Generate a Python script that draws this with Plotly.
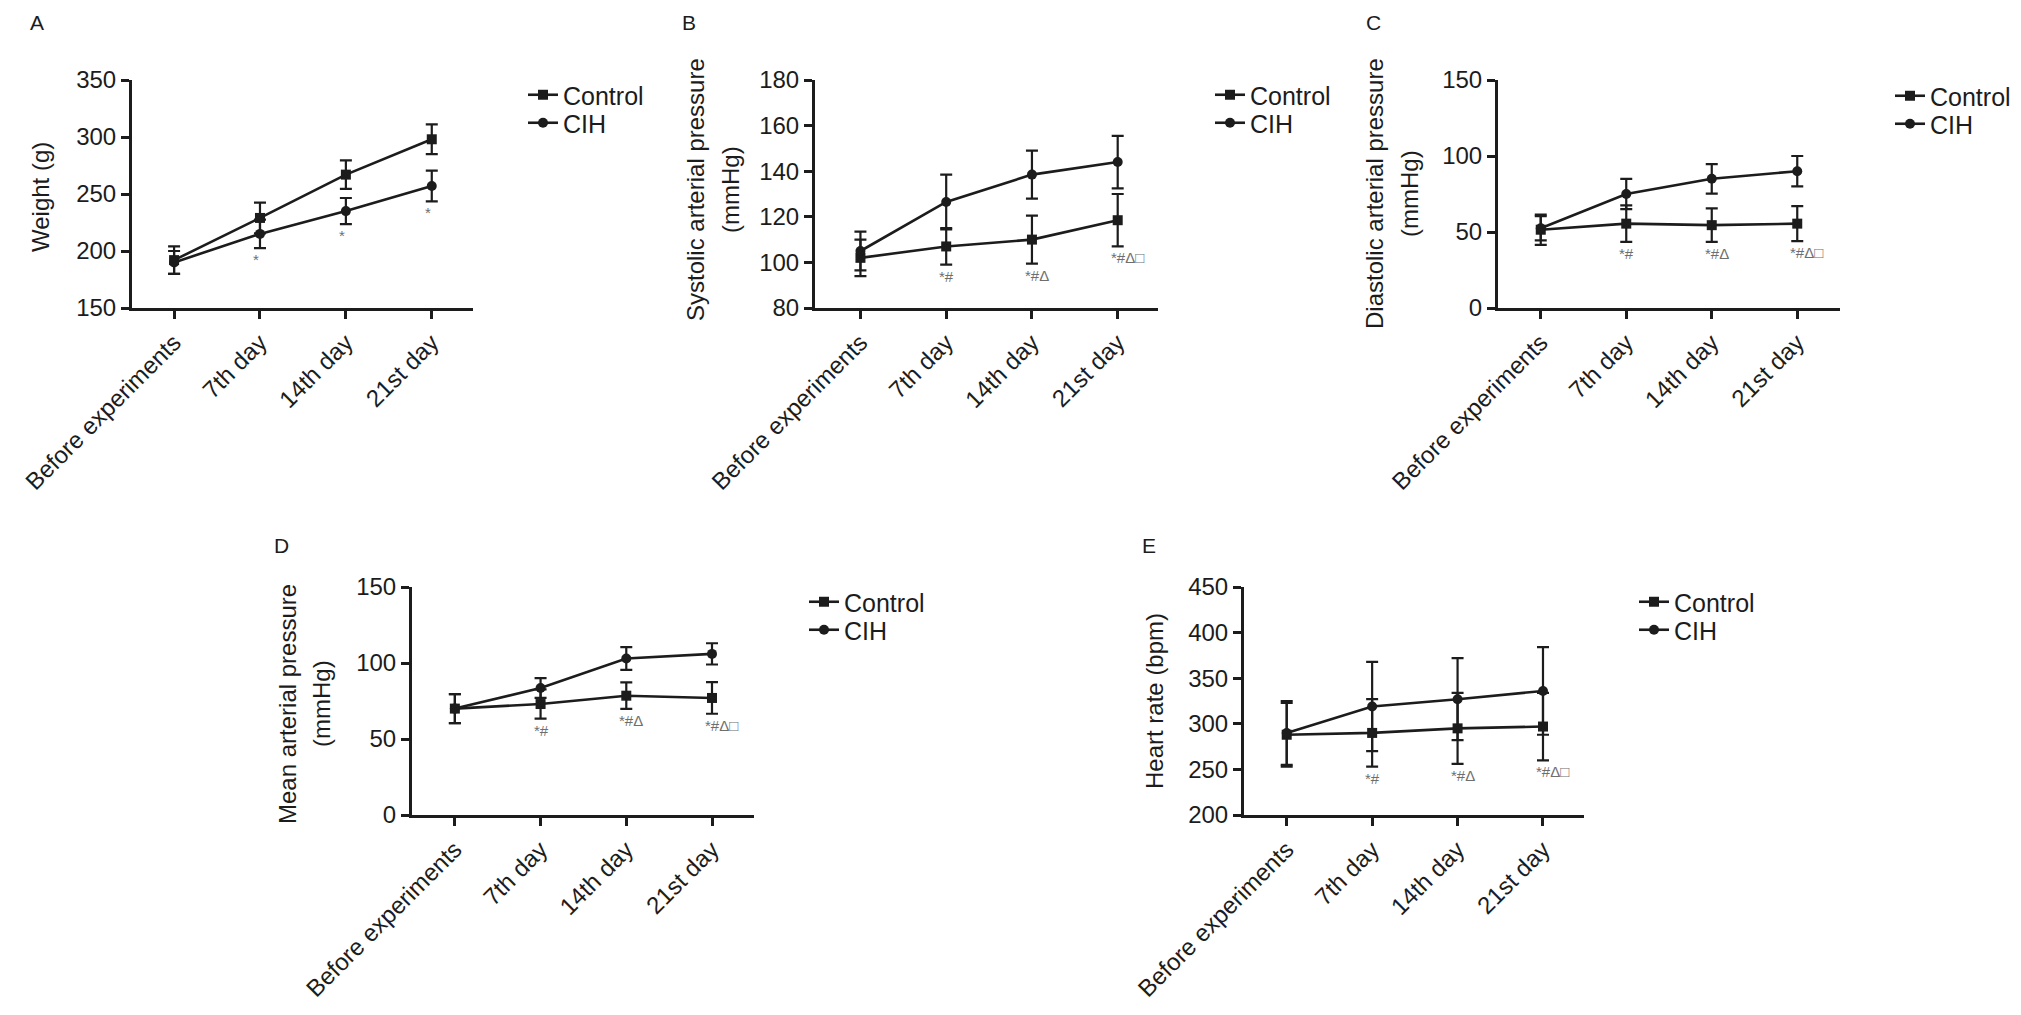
import plotly.graph_objects as go

# page is rendered with an 8px body margin, so the figure is sized to fit inside it
OFF = 8
PW, PH = 2021, 1015
W, H = PW - 2 * OFF, PH - 2 * OFF

categories = ["Before experiments", "7th day", "14th day", "21st day"]

# Panel A - Weight (g)
a_ctrl = [192, 229, 267, 298]
a_ctrl_err = [12, 13.5, 12.5, 13]
a_cih = [190, 215, 235, 257]
a_cih_err = [10, 12.5, 11.5, 13.5]
a_marks = ["", "*", "*", "*"]

# Panel B - Systolic arterial pressure (mmHg)
b_ctrl = [102, 107, 110, 118.5]
b_ctrl_err = [8, 8, 10.5, 11.5]
b_cih = [105, 126.5, 138.5, 144]
b_cih_err = [8.5, 12, 10.5, 11.5]
b_marks = ["", "*#", "*#Δ", "*#Δ□"]

# Panel C - Diastolic arterial pressure (mmHg)
c_ctrl = [51.5, 55.5, 54.5, 55.5]
c_ctrl_err = [10, 12, 11, 11.5]
c_cih = [52.5, 75, 85, 90]
c_cih_err = [8, 10, 9.7, 10]
c_marks = ["", "*#", "*#Δ", "*#Δ□"]

# Panel D - Mean arterial pressure (mmHg)
d_ctrl = [70, 73, 78.5, 77]
d_ctrl_err = [9.5, 9.6, 8.7, 10.4]
d_cih = [70, 83.5, 103, 106]
d_cih_err = [9.5, 6.5, 7.5, 7]
d_marks = ["", "*#", "*#Δ", "*#Δ□"]

# Panel E - Heart rate (bpm)
e_ctrl = [288, 290, 295, 297]
e_ctrl_err = [35, 37, 39, 37]
e_cih = [290, 319, 327, 336]
e_cih_err = [35, 49, 45, 48]
e_marks = ["", "*#", "*#Δ", "*#Δ□"]

series_names = ["Control", "CIH"]

FONT = "Liberation Sans, Arial, sans-serif"
INK = "#1c1c1c"


def fx(px):
    return (px - OFF) / W


def fy(py):
    return 1 - (py - OFF) / H


panels = [
    dict(letter="A", title=["Weight (g)"], ctrl=a_ctrl, ce=a_ctrl_err, cih=a_cih, he=a_cih_err, marks=a_marks,
         yr=[150, 350], dt=50, box=(132, 473, 80, 308), xr=[-0.49, 3.48], lp=(37, 23),
         tx=[40], ty=197, leg=(523, 95, 123)),
    dict(letter="B", title=["Systolic arterial pressure", "(mmHg)"], ctrl=b_ctrl, ce=b_ctrl_err, cih=b_cih, he=b_cih_err,
         marks=b_marks, yr=[80, 180], dt=20, box=(815, 1158, 80, 308), xr=[-0.53, 3.47], lp=(689, 23),
         tx=[695, 730], ty=190, leg=(1210, 95, 123)),
    dict(letter="C", title=["Diastolic arterial pressure", "(mmHg)"], ctrl=c_ctrl, ce=c_ctrl_err, cih=c_cih, he=c_cih_err,
         marks=c_marks, yr=[0, 150], dt=50, box=(1498, 1840, 80, 308), xr=[-0.5, 3.5], lp=(1373, 23),
         tx=[1374, 1409], ty=194, leg=(1890, 96, 124)),
    dict(letter="D", title=["Mean arterial pressure", "(mmHg)"], ctrl=d_ctrl, ce=d_ctrl_err, cih=d_cih, he=d_cih_err,
         marks=d_marks, yr=[0, 150], dt=50, box=(412, 754, 587, 815), xr=[-0.5, 3.49], lp=(281, 545),
         tx=[287, 321], ty=704, leg=(804, 602, 630)),
    dict(letter="E", title=["Heart rate (bpm)"], ctrl=e_ctrl, ce=e_ctrl_err, cih=e_cih, he=e_cih_err,
         marks=e_marks, yr=[200, 450], dt=50, box=(1244, 1584, 587, 815), xr=[-0.5, 3.48], lp=(1149, 545),
         tx=[1154], ty=701, leg=(1634, 602, 630)),
]

fig = go.Figure()
layout = dict(width=W, height=H, margin=dict(l=0, r=0, t=0, b=0, autoexpand=False),
              paper_bgcolor="white", plot_bgcolor="white", showlegend=True,
              font=dict(family=FONT, color=INK, size=23), annotations=[])

leg_no = 0
for i, p in enumerate(panels, start=1):
    sfx = "" if i == 1 else str(i)
    xa, ya = "x" + sfx, "y" + sfx
    lx, ly1, ly2 = p["leg"]
    for name, vals, errs, sym, size, ly in [(series_names[0], p["ctrl"], p["ce"], "square", 10, ly1),
                                             (series_names[1], p["cih"], p["he"], "circle", 10, ly2)]:
        leg_no += 1
        legname = "legend" if leg_no == 1 else "legend" + str(leg_no)
        fig.add_trace(go.Scatter(
            x=categories, y=vals, name=name, mode="lines+markers",
            xaxis=xa, yaxis=ya, legend=legname, showlegend=True,
            line=dict(color=INK, width=2.6),
            marker=dict(symbol=sym, size=size, color=INK),
            error_y=dict(type="data", array=errs, visible=True, color=INK, thickness=2.2, width=6),
        ))
        layout[legname] = dict(x=fx(lx), y=fy(ly), xanchor="left", yanchor="middle",
                               bgcolor="rgba(0,0,0,0)", font=dict(size=25, family=FONT, color=INK),
                               itemwidth=30, borderwidth=0)
    x0, x1, y0, y1 = p["box"]
    layout["xaxis" + sfx] = dict(
        domain=[fx(x0), fx(x1)], anchor=ya, type="category", range=p["xr"],
        showline=True, linewidth=3, linecolor=INK, ticks="outside", ticklen=8, tickwidth=3,
        tickcolor=INK, showgrid=False, zeroline=False, tickangle=-45, automargin=False,
        tickfont=dict(size=24, family=FONT, color=INK), fixedrange=True)
    layout["yaxis" + sfx] = dict(
        domain=[fy(y1), fy(y0)], anchor=xa, range=p["yr"], dtick=p["dt"], tick0=p["yr"][0],
        showline=True, linewidth=3, linecolor=INK, ticks="outside", ticklen=8, tickwidth=3,
        tickcolor=INK, showgrid=False, zeroline=False, automargin=False,
        tickfont=dict(size=24, family=FONT, color=INK), fixedrange=True)
    layout["annotations"].append(dict(text=p["letter"], x=fx(p["lp"][0]), y=fy(p["lp"][1]),
                                      xref="paper", yref="paper", xanchor="center", yanchor="middle",
                                      showarrow=False, font=dict(size=21, family=FONT, color=INK)))
    for line_text, tx in zip(p["title"], p["tx"]):
        layout["annotations"].append(dict(text=line_text, x=fx(tx), y=fy(p["ty"]),
                                          xref="paper", yref="paper", xanchor="center", yanchor="middle",
                                          textangle=-90, showarrow=False,
                                          font=dict(size=24, family=FONT, color=INK)))
    for k, m in enumerate(p["marks"]):
        if not m:
            continue
        low = min(p["ctrl"][k] - p["ce"][k], p["cih"][k] - p["he"][k])
        layout["annotations"].append(dict(text=m, x=categories[k], y=low, xref=xa, yref=ya,
                                          xanchor="left", yanchor="top", xshift=-9, yshift=-1,
                                          showarrow=False,
                                          font=dict(size=15, family=FONT, color="#6e6e6e")))

fig.update_layout(**layout)
fig.write_html("out.html")
